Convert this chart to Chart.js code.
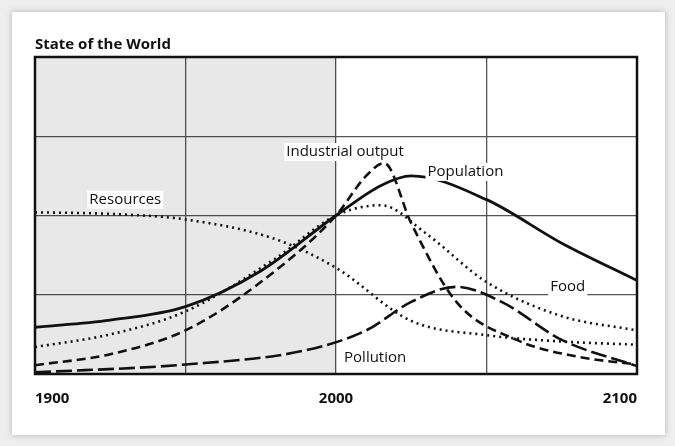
<!DOCTYPE html>
<html><head>
<script src="https://cdn.jsdelivr.net/npm/chart.js@4"></script>
<style>
  body { margin:0; background:#eeeeee; width:675px; height:446px; overflow:hidden; }
  #card { position:absolute; left:12px; top:12px; width:653px; height:423px; background:#fff; box-shadow:0 0 6px rgba(0,0,0,0.25); }
  #wrap { position:absolute; left:0; top:0; width:675px; height:446px; }
</style>
</head><body>
<div id="card"></div>
<div id="wrap"><canvas id="c" width="675" height="446"></canvas></div>
<script>
// years (x) and levels (relative units)
const popYears = [1900, 1925, 1950, 1975, 2000, 2015, 2025, 2050, 2075, 2100];
const population = [0.59, 0.68, 0.85, 1.3, 2.0, 2.38, 2.5, 2.2, 1.65, 1.18];
const indYears = [1900, 1925, 1950, 1975, 2000, 2010, 2016, 2025, 2040, 2060, 2080, 2100];
const industrial = [0.11, 0.25, 0.55, 1.16, 2.0, 2.5, 2.66, 1.9, 0.91, 0.43, 0.22, 0.12];
const foodYears = [1900, 1925, 1950, 1980, 2000, 2015, 2030, 2050, 2075, 2100];
const food = [0.34, 0.5, 0.79, 1.46, 2.0, 2.13, 1.77, 1.16, 0.73, 0.55];
const resYears = [1900, 1925, 1950, 1980, 2000, 2025, 2050, 2075, 2100];
const resources = [2.04, 2.02, 1.95, 1.7, 1.34, 0.67, 0.49, 0.41, 0.37];
const polYears = [1900, 1950, 1990, 2010, 2025, 2040, 2055, 2075, 2100];
const pollution = [0.02, 0.12, 0.3, 0.55, 0.91, 1.1, 0.91, 0.43, 0.1];
const tickYears = [1900, 2000, 2100];
const seriesLabels = [
  { text: "Population", x: 2043, y: 2.55 },
  { text: "Industrial output", x: 2003, y: 2.8 },
  { text: "Resources", x: 1930, y: 2.2 },
  { text: "Food", x: 2077, y: 1.1 },
  { text: "Pollution", x: 2013, y: 0.2 }
];

const pts = (xs, ys) => xs.map((x, i) => ({ x: x, y: ys[i] }));
const line = (data, dash, width) => ({
  data: data, borderColor: "#111", borderWidth: width, borderDash: dash,
  pointRadius: 0, cubicInterpolationMode: "monotone", fill: false
});

const decor = {
  id: "decor",
  beforeDatasetsDraw(chart) {
    const { ctx, chartArea: a, scales: { x } } = chart;
    ctx.save();
    ctx.fillStyle = "rgba(0,0,0,0.09)";
    ctx.fillRect(a.left, a.top, x.getPixelForValue(2000) - a.left, a.bottom - a.top);
    ctx.restore();
  },
  afterDraw(chart) {
    const { ctx, chartArea: a, scales: { x, y } } = chart;
    ctx.save();
    ctx.fillStyle = "#111";
    ctx.font = "bold 15px 'Open Sans', sans-serif";
    ctx.textBaseline = "alphabetic";
    ctx.fillText("State of the World", a.left, a.top - 8);
    ctx.font = "15px 'Open Sans', sans-serif";
    ctx.textAlign = "center";
    ctx.textBaseline = "middle";
    seriesLabels.forEach(l => {
      const px = x.getPixelForValue(l.x), py = y.getPixelForValue(l.y);
      const w = ctx.measureText(l.text).width;
      ctx.fillStyle = "#fff";
      ctx.fillRect(px - w / 2 - 2, py - 9, w + 4, 18);
      ctx.fillStyle = "#111";
      ctx.fillText(l.text, px, py);
    });
    ctx.strokeStyle = "#111";
    ctx.lineWidth = 2.5;
    ctx.strokeRect(a.left, a.top, a.right - a.left, a.bottom - a.top);
    ctx.restore();
  }
};

new Chart(document.getElementById("c"), {
  type: "line",
  data: {
    datasets: [
      line(pts(popYears, population), [], 2.8),
      line(pts(indYears, industrial), [9, 5], 2.6),
      line(pts(foodYears, food), [2, 4], 2.6),
      line(pts(resYears, resources), [2, 4], 2.6),
      line(pts(polYears, pollution), [16, 5], 2.6)
    ]
  },
  options: {
    responsive: false,
    animation: false,
    layout: { padding: { left: 35, right: 38, top: 57, bottom: 22 } },
    plugins: { legend: { display: false }, tooltip: { enabled: false } },
    scales: {
      x: {
        type: "linear", min: 1900, max: 2100,
        afterBuildTicks: s => { s.ticks = [1900, 1950, 2000, 2050, 2100].map(v => ({ value: v })); },
        grid: { color: "#555", lineWidth: 1.3, drawTicks: false },
        border: { display: false },
        ticks: {
          align: "inner", padding: 16, color: "#111",
          font: { family: "'Open Sans', sans-serif", size: 15, weight: "bold" },
          callback: v => tickYears.includes(v) ? String(v) : ""
        }
      },
      y: {
        min: 0, max: 4,
        grid: { color: "#555", lineWidth: 1.3, drawTicks: false },
        border: { display: false },
        ticks: { display: false, stepSize: 1 }
      }
    }
  },
  plugins: [decor]
});
</script>
</body></html>
